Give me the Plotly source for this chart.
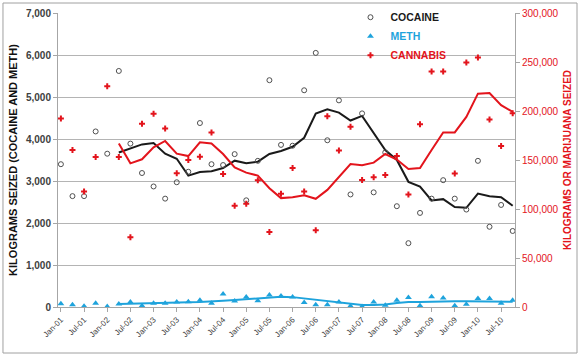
import plotly.graph_objects as go

quarters = ["Jan-01","Apr-01","Jul-01","Oct-01","Jan-02","Apr-02","Jul-02","Oct-02",
            "Jan-03","Apr-03","Jul-03","Oct-03","Jan-04","Apr-04","Jul-04","Oct-04",
            "Jan-05","Apr-05","Jul-05","Oct-05","Jan-06","Apr-06","Jul-06","Oct-06",
            "Jan-07","Apr-07","Jul-07","Oct-07","Jan-08","Apr-08","Jul-08","Oct-08",
            "Jan-09","Apr-09","Jul-09","Oct-09","Jan-10","Apr-10","Jul-10","Oct-10"]
tick_labels = ["Jan-01","Jul-01","Jan-02","Jul-02","Jan-03","Jul-03","Jan-04","Jul-04",
               "Jan-05","Jul-05","Jan-06","Jul-06","Jan-07","Jul-07","Jan-08","Jul-08",
               "Jan-09","Jul-09","Jan-10","Jul-10"]

cocaine = [3400,2640,2640,4180,3650,5620,3890,3190,2870,2580,
           2970,3220,4380,3400,3380,3640,2540,3480,5400,3860,
           3840,5160,6050,3970,4920,2680,4610,2730,3680,2400,
           1520,2240,2580,3020,2580,2320,3480,1910,2430,1810]
meth = [80,55,20,90,10,70,120,30,87,87,
        118,126,158,87,308,142,237,150,284,261,
        237,110,55,55,118,24,10,118,40,158,
        229,32,245,213,32,63,205,205,87,158]
cannabis = [192300,160200,117800,153000,225200,153000,71100,186900,197100,182200,
            136500,150000,153400,178100,135800,103300,105300,129300,76500,115500,
            141900,117800,78200,194700,159800,183900,129700,132400,134800,154100,
            114800,186600,240400,240400,136100,249500,254600,191300,164200,197700]

# trend lines (start at Apr-02)
cocaine_trend = [None]*5 + [3680,3776,3871,3903,3650,3530,3128,3215,3231,3310,
                            3484,3421,3460,3642,3713,3815,4029,4606,4708,4629,
                            4440,4550,4132,3737,3500,2980,2868,2536,2568,2378,
                            2362,2702,2639,2615,2410]
cannabis_trend = [None]*5 + [166900,146600,150700,162900,169400,156500,154000,168000,166900,156100,
                             142500,137100,134100,121200,111100,112000,114100,110400,119500,133100,
                             145900,144600,147300,156100,150500,140800,141900,160200,178100,178100,
                             194000,217700,218400,205900,199100]
meth_trend = [None]*5 + [70,80,85,95,100,105,115,120,127,150,
                         165,183,195,214,245,235,205,175,145,115,
                         80,50,50,60,95,120,120,130,135,135,
                         135,135,132,130,127]

BLACK = "#1a1a1a"
BLUE = "#1ea3dc"
RED = "#e3141c"
GRAY = "#404040"

fig = go.Figure()
fig.add_trace(go.Scatter(x=quarters, y=cocaine_trend, mode="lines",
                         line=dict(color=BLACK, width=2), showlegend=False, hoverinfo="skip"))
fig.add_trace(go.Scatter(x=quarters, y=meth_trend, mode="lines",
                         line=dict(color=BLUE, width=2), showlegend=False, hoverinfo="skip"))
fig.add_trace(go.Scatter(x=quarters, y=cannabis_trend, mode="lines", yaxis="y2",
                         line=dict(color=RED, width=2), showlegend=False, hoverinfo="skip"))

fig.add_trace(go.Scatter(x=quarters, y=cocaine, mode="markers",
                         name="<b><span style='color:#1a1a1a'>COCAINE</span></b>",
                         marker=dict(symbol="circle-open", color="#505050", size=5,
                                     line=dict(width=1, color="#505050"))))
fig.add_trace(go.Scatter(x=quarters, y=meth, mode="markers",
                         name="<b><span style='color:#1ea3dc'>METH</span></b>",
                         marker=dict(symbol="triangle-up", color=BLUE, size=6)))
fig.add_trace(go.Scatter(x=quarters, y=cannabis, mode="markers", yaxis="y2",
                         name="<b><span style='color:#e3141c'>CANNABIS</span></b>",
                         marker=dict(symbol="cross", color=RED, size=5,
                                     line=dict(width=0))))

fig.update_layout(
    width=580, height=357,
    margin=dict(l=58, r=65, t=13, b=50, autoexpand=False),
    paper_bgcolor="white", plot_bgcolor="white",
    font=dict(family="Liberation Sans, Arial, sans-serif", color=GRAY),
    xaxis=dict(
        type="category", categoryorder="array", categoryarray=quarters,
        range=[-0.25, 39.2],
        tickvals=tick_labels, ticktext=tick_labels,
        tickangle=-45, tickfont=dict(size=8, color=GRAY),
        showgrid=False, showline=True, linecolor="#a6a6a6", linewidth=1,
        ticks="outside", ticklen=4, tickcolor="#a6a6a6",
        mirror=False, automargin=False,
    ),
    yaxis=dict(
        range=[0, 7000], tickvals=[0,1000,2000,3000,4000,5000,6000,7000],
        ticktext=["<b>0</b>","<b>1,000</b>","<b>2,000</b>","<b>3,000</b>",
                  "<b>4,000</b>","<b>5,000</b>","<b>6,000</b>","<b>7,000</b>"],
        tickfont=dict(size=10, color=GRAY),
        showgrid=True, gridcolor="#b4b4b4", gridwidth=1,
        showline=True, linecolor="#a6a6a6", linewidth=1,
        ticks="outside", ticklen=4, tickcolor="#a6a6a6",
        zeroline=False, automargin=False,
        title=dict(text="<b>KILOGRAMS SEIZED (COCAINE AND METH)</b>",
                   font=dict(size=11, color="#111111"), standoff=6),
    ),
    yaxis2=dict(
        overlaying="y", side="right",
        range=[0, 300000], tickvals=[0,50000,100000,150000,200000,250000,300000],
        tickformat=",d",
        tickfont=dict(size=10, color=RED),
        showgrid=False, showline=True, linecolor="#a6a6a6", linewidth=1,
        ticks="outside", ticklen=4, tickcolor="#a6a6a6",
        zeroline=False, automargin=False,
        title=dict(text="<b>KILOGRAMS OR MARIJUANA SEIZED</b>",
                   font=dict(size=10, color=RED), standoff=6),
    ),
    legend=dict(
        x=0.64, y=1.035, xanchor="left", yanchor="top",
        bgcolor="rgba(255,255,255,0)", font=dict(size=10.5, color=BLACK),
        itemwidth=30, tracegroupgap=0,
    ),
    shapes=[dict(type="rect", xref="paper", yref="paper",
                 x0=-0.1204, x1=1.1357, y0=-0.1565, y1=1.034,
                 line=dict(color="#a0a0a0", width=1), fillcolor="rgba(0,0,0,0)",
                 layer="below")],
)

fig.write_html("out.html", config={"displayModeBar": False},
               post_script="document.body.style.margin='0';document.body.style.overflow='hidden';")
